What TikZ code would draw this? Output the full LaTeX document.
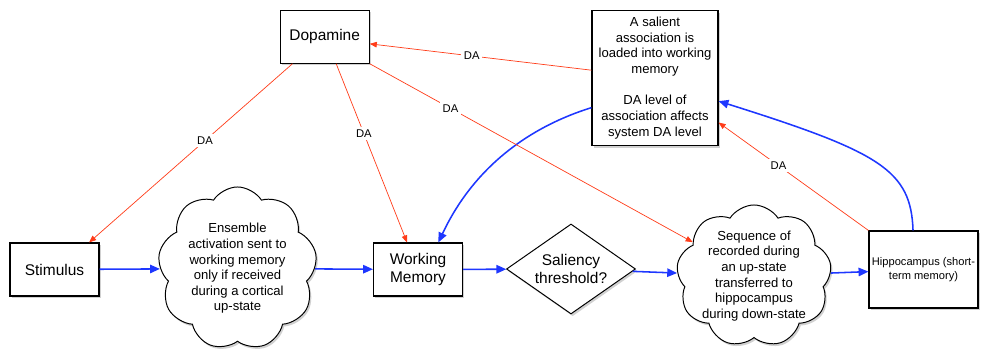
\documentclass[tikz,border=0pt]{standalone}
\usepackage{fontspec}
\setmainfont{Liberation Sans}
\usetikzlibrary{shapes.geometric,shapes.symbols,shadows,arrows.meta}
\definecolor{flowblue}{RGB}{30,55,255}
\definecolor{dared}{RGB}{255,60,25}

\begin{document}
\begin{tikzpicture}[x=0.025cm,y=-0.025cm,
  boxshadow/.style={drop shadow={shadow xshift=1.2pt,shadow yshift=-1.6pt,fill=black,opacity=0.18}},
  box/.style={draw,line width=0.8pt,fill=white,boxshadow,inner sep=0pt,align=center,
    minimum width=2.225cm,minimum height=1.325cm,font=\fontsize{11}{13}\selectfont},
  note/.style={draw,line width=0.8pt,fill=white,boxshadow,inner sep=0pt,align=center,
    font=\fontsize{9.3}{11.1}\selectfont},
  puff/.style={cloud,cloud puffs=9,cloud puff arc=115,draw,line width=0.7pt,fill=white,boxshadow,
    inner sep=0pt,align=center,font=\fontsize{9.3}{11.1}\selectfont},
  gate/.style={diamond,draw,line width=0.7pt,fill=white,boxshadow,inner sep=0pt,align=center,
    aspect=1.43,font=\fontsize{11}{13}\selectfont},
  flow/.style={draw=flowblue,line width=1.1pt,-{Triangle[length=7pt,width=6pt]}},
  da/.style={draw=dared,line width=0.5pt,-{Triangle[length=5pt,width=4pt]}},
  dalabel/.style={fill=white,inner sep=2pt,text=black,font=\fontsize{8}{9.6}\selectfont}]
  \useasboundingbox (0,0) rectangle (981,352);
  % main row
  \node[box] (stim) at (54.5,269.5) {Stimulus};
  \node[puff,minimum width=3.975cm,minimum height=4.075cm] (ens) at (237.5,268.5)
    {Ensemble\\activation sent to\\working memory\\only if received\\during a cortical\\up-state};
  \node[box] (wm) at (418,269.5) {Working\\Memory};
  \node[gate,minimum width=3.225cm,minimum height=2.25cm] (thr) at (571,269) {Saliency\\threshold?};
  \node[puff,inner sep=-7pt,minimum width=3.875cm,minimum height=3.55cm] (seq) at (754,276)
    {Sequence of\\recorded during\\an up-state\\transferred to\\hippocampus\\during down-state};
  \node[note,minimum width=2.725cm,minimum height=1.925cm,font=\fontsize{7.9}{9.5}\selectfont]
    (hip) at (923.5,269.5) {Hippocampus (short-\\term memory)};
  % top row
  \node[box] (dopa) at (324.7,36.7) {Dopamine};
  \node[note,minimum width=3.15cm,minimum height=3.375cm] (assoc) at (655,78)
    {A salient\\association is\\loaded into working\\memory\\[11.1pt]DA level of\\association affects\\system DA level};
  % blue flow
  \draw[flow] (stim) -- (ens);
  \draw[flow] (ens) -- (wm);
  \draw[flow] (wm) -- (thr);
  \draw[flow] (thr) -- (seq);
  \draw[flow] (seq) -- (hip);
  \draw[flow] (assoc.205) .. controls (520,130) and (470,175) .. (wm.53);
  \draw[flow] (hip.105) .. controls (911,170) and (880,152) .. (assoc.-20);
  % dopamine links
  \draw[da] (dopa.220) -- node[dalabel,pos=0.43] {DA} (stim.38);
  \draw[da] (dopa.293) -- node[dalabel,pos=0.39] {DA} (wm.112);
  \draw[da] (dopa.south east) -- node[dalabel,pos=0.25] {DA} (seq);
  \draw[da] (assoc.173) -- node[dalabel,pos=0.54] {DA} (dopa.-9);
  \draw[da] (hip.north west) -- node[dalabel,pos=0.6] {DA} (assoc.-35);
\end{tikzpicture}
\end{document}
